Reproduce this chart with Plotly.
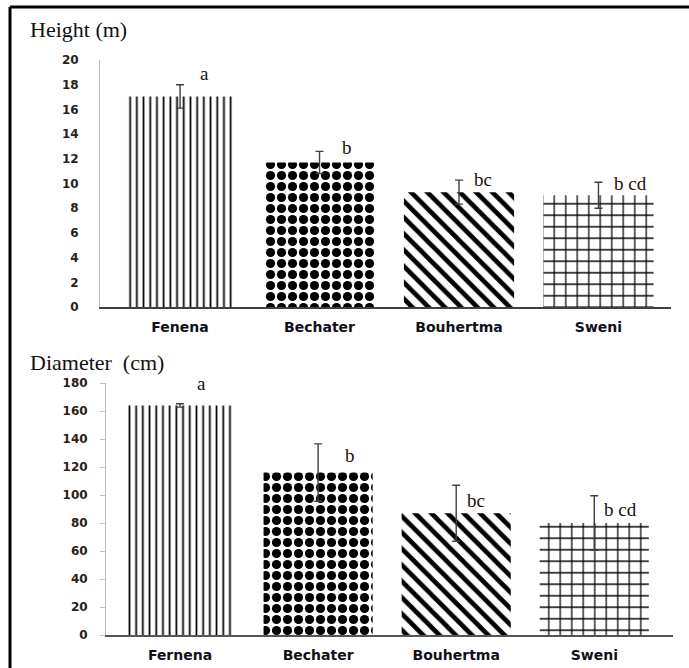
import plotly.graph_objects as go

W, H = 689, 668

categories_top = ["Fenena", "Bechater", "Bouhertma", "Sweni"]
categories_bottom = ["Fernena", "Bechater", "Bouhertma", "Sweni"]

height_mean = [17.05, 11.7, 9.3, 9.05]
height_err = [0.95, 0.9, 0.97, 1.05]
height_letters = ["a", "b", "bc", "b cd"]
height_letter_y = [18.9, 12.95, 10.3, 10.0]

diam_mean = [164, 116, 87, 80]
diam_err = [1.2, 20.5, 20, 19.5]
diam_letters = ["a", "b", "bc", "b cd"]
diam_letter_y = [180, 128, 96, 90]

height_ticks = [0, 2, 4, 6, 8, 10, 12, 14, 16, 18, 20]
diam_ticks = [0, 20, 40, 60, 80, 100, 120, 140, 160, 180]

pattern_shapes = ["|", ".", "\\", "+"]
pattern_sizes = [6.7, 11, 11.5, 11.5]
pattern_solid = [0.26, 0.55, 0.4, 0.2]


def py(p):  # reference pixel y (from top) -> paper fraction
    return 1 - p / H


def px(p):
    return p / W


fig = go.Figure()

bar_common = dict(
    marker=dict(
        color="white",
        line=dict(width=0),
        pattern=dict(shape=pattern_shapes, size=pattern_sizes, solidity=pattern_solid,
                     fgcolor="black", bgcolor="white", fgopacity=1, fillmode="overlay"),
    ),
    showlegend=False,
)

fig.add_trace(go.Bar(
    x=categories_top, y=height_mean, xaxis="x", yaxis="y",
    error_y=dict(type="data", array=height_err, color="#404040", thickness=1.4, width=4),
    **bar_common,
))
fig.add_trace(go.Bar(
    x=categories_bottom, y=diam_mean, xaxis="x2", yaxis="y2",
    error_y=dict(type="data", array=diam_err, color="#404040", thickness=1.4, width=4),
    **bar_common,
))

tickfont = dict(family="DejaVu Sans", size=12, color="#2a2116", weight="bold")
xfont = dict(family="DejaVu Sans", size=14, color="#101018", weight="bold")

fig.update_layout(
    width=W, height=H,
    margin=dict(l=0, r=0, t=0, b=0, autoexpand=False),
    paper_bgcolor="white", plot_bgcolor="white",
    bargap=0.21,
    xaxis=dict(domain=[px(100), px(671)], range=[-0.574, 3.52], showgrid=False,
               showline=True, linecolor="#404040", linewidth=1.5, ticks="",
               tickfont=xfont, anchor="y", ticklabelstandoff=6, automargin=False),
    yaxis=dict(domain=[py(307), py(60)], range=[0, 20], tickvals=height_ticks,
               showgrid=False, showline=True, linecolor="#c0c0c0", linewidth=1,
               ticks="", tickfont=tickfont, anchor="x", ticklabelstandoff=18,
               zeroline=False, automargin=False),
    xaxis2=dict(domain=[px(106), px(673)], range=[-0.536, 3.57], showgrid=False,
                showline=True, linecolor="#555555", linewidth=2, ticks="",
                tickfont=xfont, anchor="y2", ticklabelstandoff=6, automargin=False),
    yaxis2=dict(domain=[py(635), py(383)], range=[0, 180], tickvals=diam_ticks,
                showgrid=False, showline=True, linecolor="#c0c0c0", linewidth=1,
                ticks="outside", ticklen=5, tickcolor="#c0c0c0",
                tickfont=tickfont, anchor="x2", ticklabelstandoff=10, zeroline=False,
                automargin=False),
)

ann = []
top_shift = [18, 20, 13, 14]
for c, yv, t, s in zip(categories_top, height_letter_y, height_letters, top_shift):
    ann.append(dict(x=c, y=yv, xref="x", yref="y", text=t, showarrow=False,
                    xanchor="left", yanchor="middle", xshift=s,
                    font=dict(family="Liberation Serif", size=19, color="#1a1208")))
bot_shift = [15, 25, 9, 8]
for c, yv, t, s in zip(categories_bottom, diam_letter_y, diam_letters, bot_shift):
    ann.append(dict(x=c, y=yv, xref="x2", yref="y2", text=t, showarrow=False,
                    xanchor="left", yanchor="middle", xshift=s,
                    font=dict(family="Liberation Serif", size=19, color="#1a1208")))
ann.append(dict(x=px(28), y=py(30), xref="paper", yref="paper", text="Height (m)",
                showarrow=False, xanchor="left", yanchor="middle",
                font=dict(family="Liberation Serif", size=22, color="#111")))
ann.append(dict(x=px(28), y=py(362), xref="paper", yref="paper", text="Diameter&nbsp;&nbsp;(cm)",
                showarrow=False, xanchor="left", yanchor="middle",
                font=dict(family="Liberation Serif", size=22, color="#111")))
fig.update_layout(annotations=ann)

fig.update_layout(shapes=[
    dict(type="line", xref="paper", yref="paper", x0=px(10), x1=1.0, y0=py(7), y1=py(7),
         line=dict(color="black", width=3)),
    dict(type="line", xref="paper", yref="paper", x0=px(10), x1=px(10), y0=py(7), y1=0,
         line=dict(color="black", width=3)),
])

fig.write_html(
    "out.html",
    config={"displayModeBar": False},
    post_script="document.body.style.margin='0';document.body.style.overflow='hidden';",
)
